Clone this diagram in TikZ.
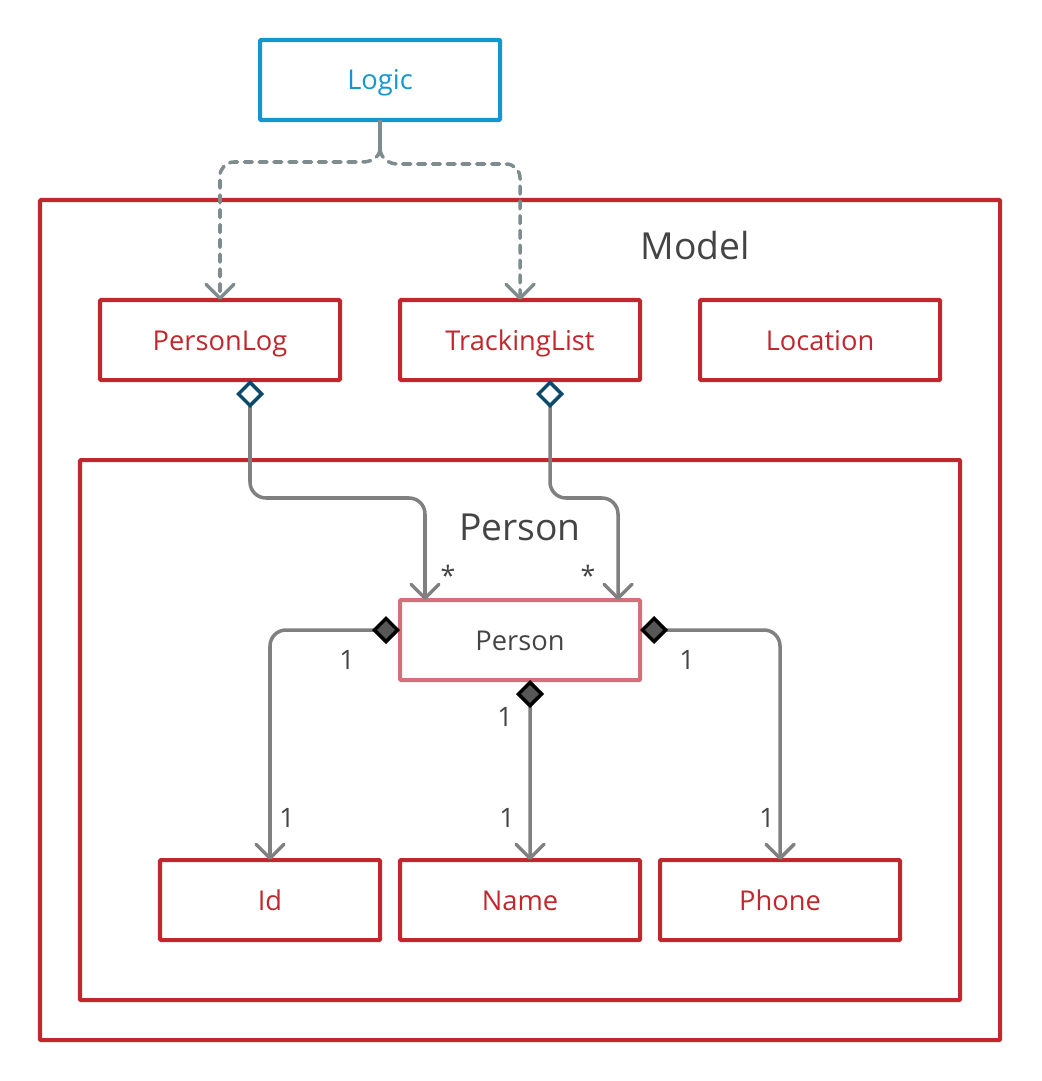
\documentclass[tikz,border=0pt]{standalone}
\usepackage{fontspec}
\setmainfont{Open Sans}
\usetikzlibrary{calc, arrows.meta, positioning}

\definecolor{modelred}{HTML}{C1272D}
\definecolor{logicblue}{HTML}{1496CF}
\definecolor{personpink}{HTML}{D4707A}
\definecolor{textgray}{HTML}{444444}
\definecolor{linegray}{HTML}{808080}
\definecolor{depgray}{HTML}{7F8C8D}
\definecolor{aggblue}{HTML}{0B4A6B}

\tikzset{
  cls/.style={draw=modelred, text=modelred, line width=2.85pt, rounded corners=0.6pt, outer sep=0pt, inner sep=0pt,
    minimum width=6cm, minimum height=2cm, text height=5mm, text depth=0mm, font=\fontsize{19.4}{23}\selectfont},
  pkg/.style={draw=modelred, line width=2.85pt, rounded corners=0.6pt, outer sep=0pt, inner sep=0pt},
  title/.style={text=textgray, font=\fontsize{26.5}{31}\selectfont},
  mult/.style={text=textgray, inner sep=0pt, font=\fontsize{19}{22}\selectfont},
  dep/.style={draw=depgray, line width=2.5pt, line cap=round, dash pattern=on 2mm off 1.7mm,
    -{Straight Barb[length=3.5mm, width=7mm, round]}},
  agg/.style={draw=linegray, line width=2.5pt, rounded corners=0.4cm,
    {Diamond[length=7mm, width=7mm, fill=white, color=aggblue]}-{Straight Barb[length=3.5mm, width=7mm, round]}},
  comp/.style={draw=linegray, line width=2.5pt, rounded corners=0.4cm,
    {Diamond[length=7mm, width=7mm, fill=textgray!90, color=black]}-{Straight Barb[length=3.5mm, width=7mm, round]}}
}

\begin{document}
\begin{tikzpicture}[every node/.style={align=center}]
\useasboundingbox (0,0) rectangle (26.025,-27.025);

% Packages
\node[pkg, minimum width=24cm, minimum height=21cm] (model) at (13,-15.5) {};
\node[title] (modeltitle) at (17.375,-6.15) {Model};
\node[pkg, minimum width=22cm, minimum height=13.5cm] (personpkg) at (13,-18.25) {};
\node[title] (persontitle) at (13,-13.175) {Person};

% Classes
\node[cls, draw=logicblue, text=logicblue] (logic) at (9.5,-2) {Logic};
\node[cls] (personlog) at (5.5,-8.5) {PersonLog};
\node[cls, right=1.5cm of personlog] (trackinglist) {TrackingList};
\node[cls, right=1.5cm of trackinglist] (location) {Location};
\node[cls, draw=personpink, text=textgray] (person) at (13,-16) {Person};
\node[cls, minimum width=5.5cm] (id) at (6.75,-22.5) {Id};
\node[cls, right=0.5cm of id] (name) {Name};
\node[cls, right=0.5cm of name] (phone) {Phone};

% Dependencies from Logic
\coordinate[below=0.75cm of logic] (fork);
\draw[draw=depgray, line width=2.5pt] (logic) -- (fork);
\draw[dep] (fork) to[out=-100, in=0] ++(-0.45,-0.3) [rounded corners=0.35cm] -| (personlog.north);
\draw[dep] (fork) to[out=-80, in=180] ++(0.45,-0.35) [rounded corners=0.35cm] -| (trackinglist.north);

% Aggregations
\draw[agg] ([xshift=7.5mm]personlog.south) -- ++(0,-2.95) -| ([xshift=-2.375cm]person.north);
\draw[agg] ([xshift=7.5mm]trackinglist.south) -- ++(0,-2.95) -| ([xshift=2.45cm]person.north);
\node[mult] (starlog) at (11.2,-14.375) {*};
\node[mult] (startrack) at (14.7,-14.375) {*};

% Compositions
\draw[comp] ([yshift=2.5mm]person.west) -| (id.north);
\draw[comp] ([xshift=2.5mm]person.south) -- ([xshift=2.5mm]name.north);
\draw[comp] ([yshift=2.5mm]person.east) -| (phone.north);
\node[mult] (idsrc) at (8.675,-16.5) {1};
\node[mult] (iddst) at (7.175,-20.45) {1};
\node[mult] (namesrc) at (12.625,-17.925) {1};
\node[mult] (namedst) at (12.675,-20.45) {1};
\node[mult] (phonesrc) at (17.175,-16.5) {1};
\node[mult] (phonedst) at (19.175,-20.45) {1};
\end{tikzpicture}
\end{document}
